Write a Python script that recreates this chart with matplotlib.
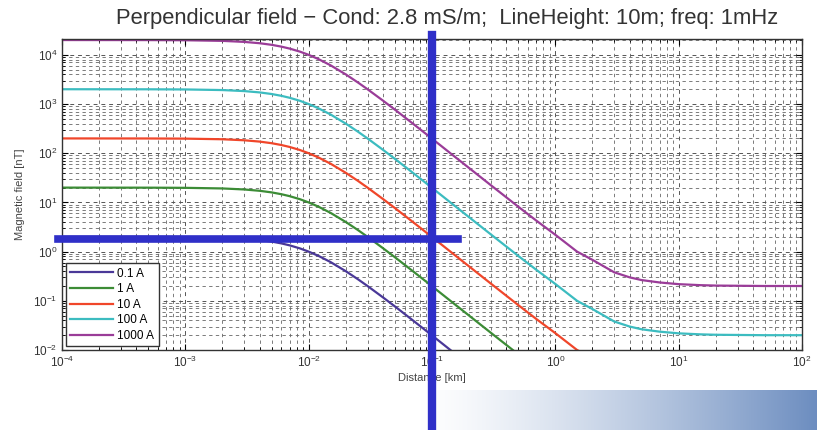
import numpy as np
import matplotlib
matplotlib.use("Agg")
import matplotlib.pyplot as plt
from matplotlib.ticker import LogLocator, NullFormatter, FixedLocator

plt.rcParams['font.family'] = ['Liberation Sans', 'DejaVu Sans']

# Distance samples [km]
distance = [1e-4, 5e-4, 1e-3, 2e-3, 3e-3, 4e-3, 5e-3, 6e-3, 7e-3, 8.5e-3, 0.01, 0.012,
            0.015, 0.02, 0.025, 0.03, 0.04, 0.05, 0.07, 0.1, 0.15, 0.2, 0.3, 0.5, 0.7,
            1, 1.5, 2, 3, 4, 5, 7, 10, 15, 20, 50, 100]

# Magnetic field [nT]
b_0p1 = [2.0, 1.995, 1.98, 1.924, 1.834, 1.724, 1.6, 1.47, 1.342, 1.162, 1.0, 0.82,
         0.616, 0.40, 0.276, 0.20, 0.1176, 0.077, 0.040, 0.0198, 0.00884, 0.0050, 0.00224,
         0.00082, 0.000428, 0.00022, 0.00010, 0.000068, 0.000038, 0.000030, 0.0000264,
         0.0000236, 0.0000218, 0.0000208, 0.0000204, 0.00002, 0.00002]
b_1 = [20.0, 19.95, 19.8, 19.24, 18.34, 17.24, 16.0, 14.7, 13.42, 11.62, 10.0, 8.2,
       6.16, 4.0, 2.76, 2.0, 1.176, 0.77, 0.40, 0.198, 0.0884, 0.050, 0.0224,
       0.0082, 0.00428, 0.0022, 0.0010, 0.00068, 0.00038, 0.00030, 0.000264,
       0.000236, 0.000218, 0.000208, 0.000204, 0.0002, 0.0002]
b_10 = [200, 199.5, 198, 192.4, 183.4, 172.4, 160, 147, 134.2, 116.2, 100, 82,
        61.6, 40, 27.6, 20, 11.76, 7.7, 4.0, 1.98, 0.884, 0.50, 0.224,
        0.082, 0.0428, 0.022, 0.010, 0.0068, 0.0038, 0.0030, 0.00264,
        0.00236, 0.00218, 0.00208, 0.00204, 0.002, 0.002]
b_100 = [2000, 1995, 1980, 1924, 1834, 1724, 1600, 1470, 1342, 1162, 1000, 820,
         616, 400, 276, 200, 117.6, 77, 40, 19.8, 8.84, 5.0, 2.24,
         0.82, 0.428, 0.22, 0.10, 0.068, 0.038, 0.030, 0.0264,
         0.0236, 0.0218, 0.0208, 0.0204, 0.020, 0.020]
b_1000 = [20000, 19950, 19800, 19240, 18340, 17240, 16000, 14700, 13420, 11620, 10000, 8200,
          6160, 4000, 2760, 2000, 1176, 770, 400, 198, 88.4, 50, 22.4,
          8.2, 4.28, 2.2, 1.0, 0.68, 0.38, 0.30, 0.264,
          0.236, 0.218, 0.208, 0.204, 0.20, 0.20]

series = [b_0p1, b_1, b_10, b_100, b_1000]
labels = ['0.1 A', '1 A', '10 A', '100 A', '1000 A']
colors = ['#4a3898', '#3c8c36', '#f0462a', '#3cbcc0', '#9a3c98']

x_ticks = [1e-4, 1e-3, 1e-2, 1e-1, 1e0, 1e1, 1e2]
y_ticks = [1e-2, 1e-1, 1e0, 1e1, 1e2, 1e3, 1e4]

marker_x = 0.1     # km
marker_y = 1.8     # nT

fig = plt.figure(figsize=(8.17, 4.30), dpi=100)
fig.patch.set_facecolor('white')

# slide background gradient (bottom right)
gx = np.linspace(0, 1, 400)
t = np.clip(gx, 0, 1) ** 1.3
img = np.ones((40, 400, 3))
c_end = np.array([0.42, 0.55, 0.75])
for k in range(3):
    img[..., k] = 1 - t[None, :] * (1 - c_end[k])
fig.figimage((img * 255).astype(np.uint8), xo=420, yo=0, zorder=-10)

ax = fig.add_axes([62/817, 80/430, 740/817, 311/430])
ax.set_facecolor('white')

for y, lab, c in zip(series, labels, colors):
    ax.plot(distance, y, color=c, lw=1.6, label=lab)

ax.set_xscale('log')
ax.set_yscale('log')
ax.set_xlim(1e-4, 1e2)
ax.set_ylim(1e-2, 2.1e4)

ax.xaxis.set_major_locator(FixedLocator(x_ticks))
ax.yaxis.set_major_locator(FixedLocator(y_ticks))
x_minor = [m * d for d in x_ticks[:-1] for m in range(2, 10)]
y_minor = [m * d for d in y_ticks for m in range(2, 10) if m * d < 2.1e4]
ax.xaxis.set_minor_locator(FixedLocator(x_minor))
ax.yaxis.set_minor_locator(FixedLocator(y_minor))
ax.xaxis.set_minor_formatter(NullFormatter())
ax.yaxis.set_minor_formatter(NullFormatter())

ax.grid(True, which='major', color='#555555', linestyle=(0, (4, 4)), lw=0.7)
ax.grid(True, which='minor', color='#666666', linestyle=(0, (4, 4)), lw=0.6)
ax.tick_params(which='both', direction='in', top=True, right=True, labelsize=8.5,
               labelcolor='#333333')
ax.tick_params(which='major', length=4)
ax.tick_params(which='minor', length=2)
for s in ax.spines.values():
    s.set_color('#333333')
    s.set_linewidth(1.0)

ax.set_xlabel('Distance [km]', fontsize=8, color='#444444', labelpad=2)
ax.set_ylabel('Magnetic field [nT]', fontsize=8, color='#444444', labelpad=6)

fig.text(0.547, 0.957, 'Perpendicular field \u2212 Cond: 2.8 mS/m;  LineHeight: 10m; freq: 1mHz',
         ha='center', va='center', fontsize=15.8, color='#333333')

leg = ax.legend(loc='lower left', fontsize=8.5, frameon=True, fancybox=False,
                edgecolor='#333333', handlelength=3.6, borderpad=0.35, labelspacing=0.3,
                handletextpad=0.4, borderaxespad=0.35)
leg.get_frame().set_linewidth(1.0)
leg.get_frame().set_alpha(1.0)

# thick blue marker lines
ax.axvline(marker_x, ymin=-0.257, ymax=1.013, color='#2f2fc8', lw=6, clip_on=False, zorder=5)
ax.axhline(marker_y, xmin=-0.006, xmax=0.535, color='#2f2fc8', lw=5.5, clip_on=False, zorder=5)

fig.savefig('out.png', dpi=100)
